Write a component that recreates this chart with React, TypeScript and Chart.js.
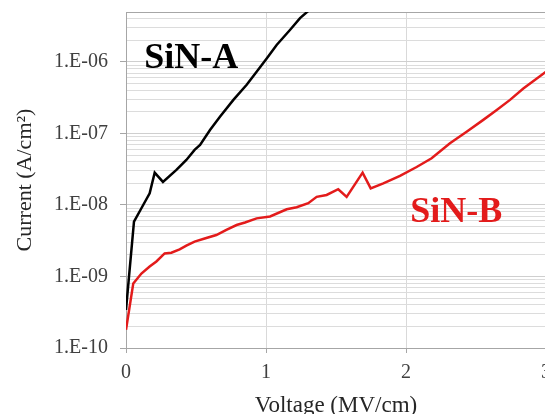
import React, { useEffect, useRef } from "react";
import { Chart, registerables } from "chart.js";

Chart.register(...registerables);

// SiN-A (black)
const voltageA = [0, 0.057, 0.11, 0.169, 0.205, 0.264, 0.36, 0.431, 0.49, 0.529, 0.6, 0.671, 0.767, 0.862, 0.933, 1.005, 1.076, 1.171, 1.243, 1.36];
const currentA = [3.4e-10, 5.85e-9, 9e-9, 1.46e-8, 2.83e-8, 2.1e-8, 3.09e-8, 4.26e-8, 5.9e-8, 6.9e-8, 1.12e-7, 1.72e-7, 2.95e-7, 4.8e-7, 7.3e-7, 1.12e-6, 1.73e-6, 2.8e-6, 4.1e-6, 6.5e-6];

// SiN-B (red)
const voltageB = [0, 0.052, 0.11, 0.169, 0.217, 0.276, 0.324, 0.383, 0.431, 0.49, 0.562, 0.645, 0.717, 0.79, 0.85, 0.933, 1.029, 1.148, 1.219, 1.302, 1.362, 1.433, 1.516, 1.576, 1.69, 1.748, 1.838, 1.957, 2.076, 2.183, 2.314, 2.433, 2.552, 2.648, 2.743, 2.838, 3.0];
const currentB = [1.8e-10, 8.0e-10, 1.1e-9, 1.38e-9, 1.62e-9, 2.1e-9, 2.15e-9, 2.4e-9, 2.7e-9, 3.07e-9, 3.4e-9, 3.8e-9, 4.5e-9, 5.25e-9, 5.7e-9, 6.5e-9, 6.9e-9, 8.7e-9, 9.3e-9, 1.06e-8, 1.3e-8, 1.38e-8, 1.66e-8, 1.3e-8, 2.83e-8, 1.71e-8, 2.0e-8, 2.55e-8, 3.4e-8, 4.5e-8, 7.3e-8, 1.06e-7, 1.55e-7, 2.13e-7, 2.95e-7, 4.26e-7, 7.3e-7];

const xTicks = [0, 1, 2, 3];
const yDecades = [-10, -9, -8, -7, -6];
const yMin = 1e-10;
const yMax = 5e-6;

const labelA = { text: "SiN-A", x: 0.13, y: 8.2e-7, color: "#000000" };
const labelB = { text: "SiN-B", x: 2.03, y: 5.8e-9, color: "#e31b1b" };

const SERIF = '"Liberation Serif", "Times New Roman", serif';

function isDecade(v: number) {
  const l = Math.log10(v);
  return Math.abs(l - Math.round(l)) < 1e-6;
}

function buildYTicks() {
  const out: { value: number }[] = [];
  for (const d of yDecades) {
    for (let m = 1; m <= 9; m++) {
      const v = m * Math.pow(10, d);
      if (v <= yMax * 1.0000001) out.push({ value: v });
    }
  }
  return out;
}

const textLabels = {
  id: "textLabels",
  afterDatasetsDraw(chart: any) {
    const { ctx, scales } = chart;
    ctx.save();
    ctx.font = `bold 36px ${SERIF}`;
    ctx.textAlign = "left";
    ctx.textBaseline = "alphabetic";
    for (const l of [labelA, labelB]) {
      ctx.fillStyle = l.color;
      ctx.fillText(l.text, scales.x.getPixelForValue(l.x), scales.y.getPixelForValue(l.y));
    }
    ctx.restore();
  },
};

export default function App() {
  const ref = useRef<HTMLCanvasElement | null>(null);
  useEffect(() => {
    if (!ref.current) return;
    const chart = new Chart(ref.current, {
      type: "line",
      data: {
        datasets: [
          {
            label: "SiN-A",
            data: voltageA.map((x, i) => ({ x, y: currentA[i] })),
            borderColor: "#000000",
            borderWidth: 2.5,
            pointRadius: 0,
            tension: 0,
            fill: false,
          },
          {
            label: "SiN-B",
            data: voltageB.map((x, i) => ({ x, y: currentB[i] })),
            borderColor: "#e31b1b",
            borderWidth: 2.5,
            pointRadius: 0,
            tension: 0,
            fill: false,
          },
        ],
      },
      options: {
        animation: false,
        responsive: false,
        devicePixelRatio: 1,
        layout: { padding: { top: 0, right: 54, left: 0, bottom: 0 } },
        plugins: {
          legend: { display: false },
          tooltip: { enabled: false },
        },
        scales: {
          x: {
            type: "linear",
            min: 0,
            max: 3,
            afterBuildTicks: (s: any) => {
              s.ticks = xTicks.map((v) => ({ value: v }));
            },
            afterFit: (s: any) => {
              s.height = 82;
            },
            ticks: {
              font: { family: SERIF, size: 20 },
              color: "#404040",
              padding: 8,
              maxRotation: 0,
              autoSkip: false,
            },
            grid: {
              color: "#d9d9d9",
              tickColor: "#a6a6a6",
              tickLength: 5,
            },
            border: { display: true, color: "#a6a6a6", width: 1 },
            title: {
              display: true,
              text: "Voltage (MV/cm)",
              font: { family: SERIF, size: 23 },
              color: "#262626",
              padding: { top: 0, bottom: 10 },
            },
          },
          y: {
            type: "logarithmic",
            min: yMin,
            max: yMax,
            afterBuildTicks: (s: any) => {
              s.ticks = buildYTicks();
            },
            afterFit: (s: any) => {
              s.width = 126;
            },
            ticks: {
              autoSkip: false,
              font: { family: SERIF, size: 20 },
              color: "#404040",
              padding: 12,
              callback: (v: any) => {
                const n = Number(v);
                if (!isDecade(n)) return "";
                const e = Math.round(Math.log10(n));
                const a = Math.abs(e);
                return `1.E${e < 0 ? "-" : "+"}${a < 10 ? "0" + a : a}`;
              },
            },
            grid: {
              color: (c: any) => {
                const v = c.tick ? c.tick.value : 0;
                if (Math.abs(v - yMax) < yMax * 1e-6) return "#a6a6a6";
                return isDecade(v) ? "#cfcfcf" : "#dcdcdc";
              },
              tickColor: (c: any) => (c.tick && isDecade(c.tick.value) ? "#a6a6a6" : "rgba(0,0,0,0)"),
              tickLength: 6,
            },
            border: { display: true, color: "#a6a6a6", width: 1 },
            title: {
              display: true,
              text: "Current (A/cm²)",
              font: { family: SERIF, size: 22 },
              color: "#262626",
              padding: { top: 12, bottom: 0 },
            },
          },
        },
      },
      plugins: [textLabels],
    } as any);
    return () => chart.destroy();
  }, []);
  return (
    <div
      style={{
        position: "fixed",
        left: 0,
        top: 0,
        width: 545,
        height: 414,
        overflow: "hidden",
        background: "#ffffff",
      }}
    >
      <canvas
        ref={ref}
        width={600}
        height={442}
        style={{ display: "block", position: "absolute", left: 0, top: -12 }}
      />
    </div>
  );
}
